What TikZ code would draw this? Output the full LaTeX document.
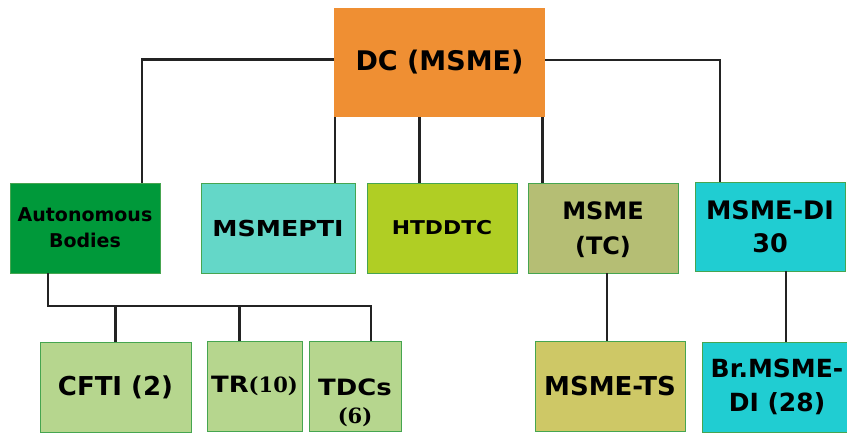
\documentclass[tikz,border=0pt]{standalone}
\usepackage{fontspec}
\setmainfont{DejaVu Sans}
\newfontfamily\widefont[FakeStretch=1.15]{DejaVu Sans}
\newfontfamily\numfont{DejaVu Serif}

\definecolor{dcorange}{RGB}{239,143,51}
\definecolor{autogreen}{RGB}{0,153,58}
\definecolor{ptiteal}{RGB}{100,215,200}
\definecolor{htdlime}{RGB}{176,206,36}
\definecolor{tcolive}{RGB}{181,190,116}
\definecolor{dicyan}{RGB}{32,205,210}
\definecolor{subgreen}{RGB}{182,214,142}
\definecolor{tsyellow}{RGB}{206,200,102}
\definecolor{boxline}{RGB}{70,165,80}
\definecolor{linkgray}{RGB}{35,35,35}

\tikzset{
  box/.style={draw=boxline, line width=0.8pt, minimum width=150pt,
    minimum height=90pt, inner sep=0pt, align=center},
  fs/.style 2 args={font=\bfseries\fontsize{#1}{#2}\selectfont},
  wfs/.style 2 args={font=\widefont\bfseries\fontsize{#1}{#2}\selectfont},
  link/.style={draw=linkgray, line width=2.2pt},
}

\begin{document}
\begin{tikzpicture}[x=1pt,y=-1pt]
  \useasboundingbox (0,0) rectangle (847,432);

  % top
  \node[box, draw=none, fill=dcorange, minimum width=211pt, minimum height=109pt,
    fs={27}{32}] (dc) at (439.5,62.5) {DC (MSME)};

  % second row
  \node[box, fill=autogreen, fs={19}{26}] (auto) at (85,228) {Autonomous\\Bodies};
  \node[box, fill=ptiteal, minimum width=154pt, wfs={22}{26}] (pti) at (278,228) {MSMEPTI};
  \node[box, fill=htdlime, wfs={19}{24}] (htd) at (442,228) {HTDDTC};
  \node[box, fill=tcolive, fs={24}{35}] (tc) at (603,228) {\rule{0pt}{22pt}MSME\\(TC)};
  \node[box, fill=dicyan, minimum height=89pt, fs={25.5}{33}] (di) at (770,226.5) {MSME-DI\\30};

  % third row
  \node[box, fill=subgreen, minimum width=151pt, fs={26}{30}] (cfti) at (115.5,387) {CFTI (2)};
  \node[box, fill=subgreen, minimum width=95pt, wfs={22.5}{28}] (tr) at (254.5,386)
    {TR{\numfont\fontsize{21}{24}\selectfont(10)}};
  \node[box, fill=subgreen, minimum width=92pt, wfs={22.5}{28}] (tdc) at (355,386)
    {\rule{0pt}{50pt}TDCs\\{\numfont\fontsize{21}{24}\selectfont(6)}};
  \node[box, fill=tsyellow, fs={26}{32}] (ts) at (610,386) {MSME-TS};
  \node[box, fill=dicyan, fs={25}{34}] (br) at (777,387) {Br.MSME-\\DI (28)};

  % links from the top box
  \draw[link] ([yshift=3pt]dc.west) -| ([xshift=57pt]auto.north);
  \draw[link] ([yshift=2.5pt]dc.east) -| ([xshift=-50pt]di.north);
  \draw[link] ([xshift=1pt]dc.south west) -- ([xshift=1pt]dc.south west |- pti.north);
  \draw[link] ([xshift=-20pt]dc.south) -- ([xshift=-20pt]dc.south |- htd.north);
  \draw[link] ([xshift=-3pt]dc.south east) -- ([xshift=-3pt]dc.south east |- tc.north);

  % autonomous bodies group
  \coordinate (bus) at (48,306);
  \draw[link] ([xshift=-37pt]auto.south) -- (bus) -| ([xshift=16pt]tdc.north);
  \draw[link] (cfti.north) -- (cfti.north |- bus);
  \draw[link] ([xshift=-15pt]tr.north) -- ([xshift=-15pt]tr.north |- bus);

  % lower links
  \draw[link] ([xshift=4pt]tc.south) -- ([xshift=4pt]tc.south |- ts.north);
  \draw[link] ([xshift=16pt]di.south) -- ([xshift=16pt]di.south |- br.north);
\end{tikzpicture}
\end{document}
